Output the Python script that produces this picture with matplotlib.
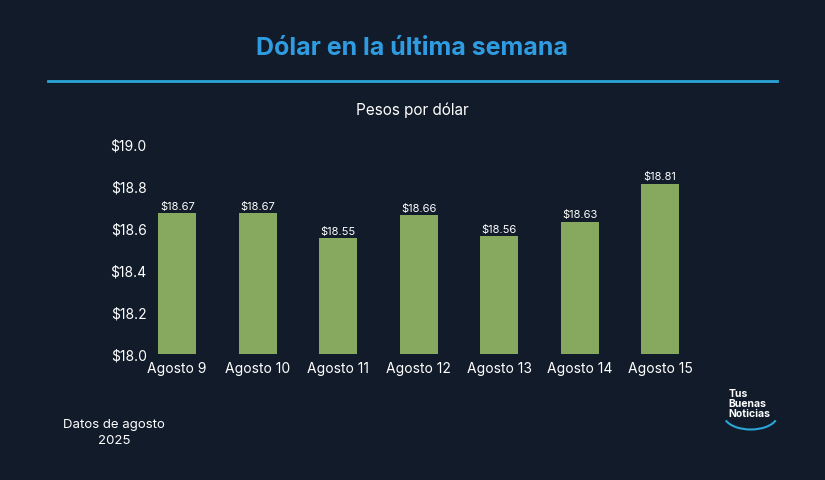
import matplotlib
matplotlib.use("Agg")
import matplotlib.pyplot as plt
from matplotlib.patches import Arc

categories = ["Agosto 9", "Agosto 10", "Agosto 11", "Agosto 12", "Agosto 13", "Agosto 14", "Agosto 15"]
values = [18.67, 18.67, 18.55, 18.66, 18.56, 18.63, 18.81]
yticks = [18.0, 18.2, 18.4, 18.6, 18.8, 19.0]

bg = "#111b29"
plt.rcParams["font.family"] = "Inter"
fig = plt.figure(figsize=(8.25, 4.81), dpi=100, facecolor=bg)
ax = fig.add_axes([0.166, 0.262, 0.683, 0.437], facecolor=bg)
x = range(len(categories))
ax.bar(x, [v - 18.0 for v in values], bottom=18.0, width=0.47, color="#86a85f")
for i, v in zip(x, values):
    ax.text(i, v + 0.012, f"${v:.2f}", ha="center", va="bottom", color="white", fontsize=8)
ax.set_xlim(-0.5, len(categories) - 0.5)
ax.set_ylim(18.0, 19.0)
ax.set_yticks(yticks)
ax.set_yticklabels([f"${t:.1f}" for t in yticks], color="white", fontsize=10)
ax.set_xticks(list(x))
ax.set_xticklabels(categories, color="white", fontsize=10)
ax.tick_params(axis="x", length=0, pad=5)
ax.tick_params(axis="y", length=0, pad=-7)
for s in ax.spines.values():
    s.set_visible(False)

fig.text(0.5, 0.9, "Dólar en la última semana", ha="center", va="center",
         color="#2f9be0", fontsize=18, fontweight="bold")
fig.add_artist(plt.Line2D([0.058, 0.942], [0.83, 0.83], color="#2aa6d8", lw=2))
fig.text(0.5, 0.77, "Pesos por dólar", ha="center", va="center", color="white", fontsize=11)
fig.text(0.138, 0.1, "Datos de agosto\n2025", ha="center", va="center", color="white",
         fontsize=9.5, linespacing=1.4)
fig.text(0.883, 0.16, "Tus\nBuenas\nNoticias", ha="left", va="center", color="white",
         fontsize=7.5, fontweight="bold", linespacing=1.0)
fig.add_artist(Arc((0.91, 0.135), 0.065, 0.06, theta1=200, theta2=340,
                   color="#2aa6d8", lw=1.5, transform=fig.transFigure))
fig.savefig("out.png", facecolor=bg)
